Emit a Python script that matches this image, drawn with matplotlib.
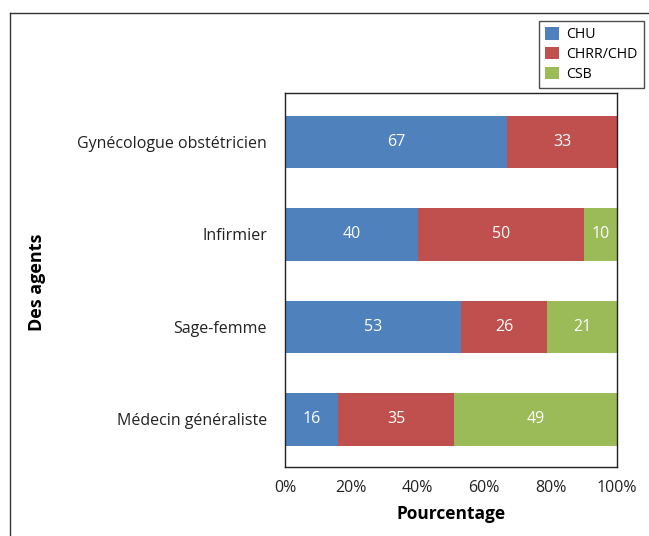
import matplotlib
matplotlib.use("Agg")
import matplotlib.pyplot as plt
from matplotlib.lines import Line2D

categories = ["Médecin généraliste", "Sage-femme", "Infirmier", "Gynécologue obstétricien"]
series_names = ["CHU", "CHRR/CHD", "CSB"]
chu = [16, 53, 40, 67]
chrr = [35, 26, 50, 33]
csb = [49, 21, 10, 0]
colors = ["#4F81BD", "#C0504D", "#9BBB59"]
xticks = [0, 20, 40, 60, 80, 100]
xticklabels = ["0%", "20%", "40%", "60%", "80%", "100%"]

plt.rcParams['font.family'] = ['Open Sans', 'DejaVu Sans']

W, H = 649, 536
fig = plt.figure(figsize=(W / 100, H / 100), dpi=100)
ax = fig.add_axes([285 / W, 1 - 467 / H, (617 - 285) / W, (467 - 93) / H])

ypos = list(range(len(categories)))
left = [0] * len(categories)
for name, vals, c in zip(series_names, [chu, chrr, csb], colors):
    bars = ax.barh(ypos, vals, left=left, height=0.57, color=c, label=name)
    for b, v in zip(bars, vals):
        if v > 0:
            ax.text(b.get_x() + b.get_width() / 2, b.get_y() + b.get_height() / 2, str(v),
                    ha='center', va='center', color='white', fontsize=11.5)
    left = [l + v for l, v in zip(left, vals)]

ax.set_xlim(0, 100)
ax.set_ylim(-0.514, len(categories) - 0.47)
ax.set_yticks(ypos)
ax.set_yticklabels(categories, fontsize=11.5, color='#222222')
ax.set_xticks(xticks)
ax.set_xticklabels(xticklabels, fontsize=11.5, color='#222222')
ax.tick_params(length=0)
ax.tick_params(axis='x', pad=9)
ax.tick_params(axis='y', pad=13)
for s in ax.spines.values():
    s.set_color('#222222')
    s.set_linewidth(1.0)

ax.set_xlabel("Pourcentage", fontsize=12.5, fontweight='bold', labelpad=7)
fig.text(37 / W, 1 - 282 / H, "Des agents", rotation=90, fontsize=13, fontweight='bold',
         ha='center', va='center')

leg = fig.legend(loc='upper left', bbox_to_anchor=(539 / W, 1 - 21 / H), frameon=True,
                 fancybox=False, edgecolor='#222222', fontsize=10.2, handlelength=0.95,
                 handleheight=0.95, borderpad=0.45, labelspacing=0.33, handletextpad=0.5,
                 borderaxespad=0)
leg.get_frame().set_linewidth(1.0)

fig.add_artist(Line2D([10 / W, 10 / W], [0, 1 - 13 / H], transform=fig.transFigure, color='#333333', lw=1.0))
fig.add_artist(Line2D([10 / W, 1], [1 - 13 / H, 1 - 13 / H], transform=fig.transFigure, color='#333333', lw=1.0))

fig.savefig("out.png", dpi=100)
